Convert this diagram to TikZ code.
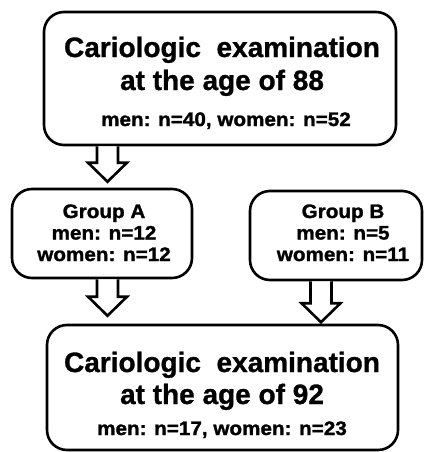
\documentclass[tikz,border=0pt]{standalone}
\usepackage{fontspec}
\setmainfont{Liberation Sans}
\newfontfamily\heavyfont[FakeBold=1.0]{Liberation Sans Bold}
\newfontfamily\wideheavy[FakeBold=1.4,FakeStretch=1.06]{Liberation Sans Bold}
\usetikzlibrary{calc}
\tikzset{
  box/.style={draw, line width=2.6pt, rounded corners=20pt, inner sep=0pt},
  titletext/.style={font=\heavyfont\fontsize{28}{33}\selectfont, align=center, anchor=base, inner sep=0pt},
  smalltext/.style={font=\wideheavy\fontsize{19.5}{21.5}\selectfont, align=center, anchor=base, inner sep=0pt},
  barrow/.style={draw, line width=2.6pt, fill=white, line join=miter},
}
\newcommand\blockarr[2]{%
  \draw[barrow] ($(#1)+(-10.5,0)$) -- ($(#2)+(-10.5,19)$) -- ($(#2)+(-19.5,19)$) -- (#2)
     -- ($(#2)+(19.5,19)$) -- ($(#2)+(10.5,19)$) -- ($(#1)+(10.5,0)$);}
\begin{document}
\begin{tikzpicture}[x=1pt,y=1pt]
\useasboundingbox (0,0) rectangle (425,-452);
% boxes
\node[box, minimum width=352pt, minimum height=133pt] (top) at (220,-78.5) {};
\node[box, minimum width=180pt, minimum height=89pt] (ga) at (102,-233.5) {};
\node[box, minimum width=172pt, minimum height=89pt] (gb) at (336,-235.5) {};
\node[box, minimum width=351pt, minimum height=125pt] (bot) at (222.5,-387.5) {};
% texts
\node[titletext] (t1) at (222,-57) {Cariologic\ \ examination};
\node[titletext] (t2) at (222,-90) {at the age of 88};
\node[smalltext] (t3) at (226,-126) {men: n=40, women: n=52};
\node[smalltext] (a1) at (104,-218) {Group A};
\node[smalltext] (a2) at (104,-239.5) {men: n=12};
\node[smalltext] (a3) at (104,-261) {women: n=12};
\node[smalltext] (b1) at (343,-218) {Group B};
\node[smalltext] (b2) at (343,-239.5) {men: n=5};
\node[smalltext] (b3) at (343,-261) {women: n=11};
\node[titletext] (u1) at (222,-372) {Cariologic\ \ examination};
\node[titletext] (u2) at (222,-404) {at the age of 92};
\node[smalltext] (u3) at (222,-435) {men: n=17, women: n=23};
% arrow positions
\coordinate (xa) at (107.5,0);
\coordinate (xb) at (321,0);
\blockarr{xa |- top.south}{$(xa |- ga.north)+(0,6)$}
\blockarr{xa |- ga.south}{$(xa |- bot.north)+(0,8)$}
\blockarr{xb |- gb.south}{$(xb |- bot.north)+(0,1.5)$}
\end{tikzpicture}
\end{document}
